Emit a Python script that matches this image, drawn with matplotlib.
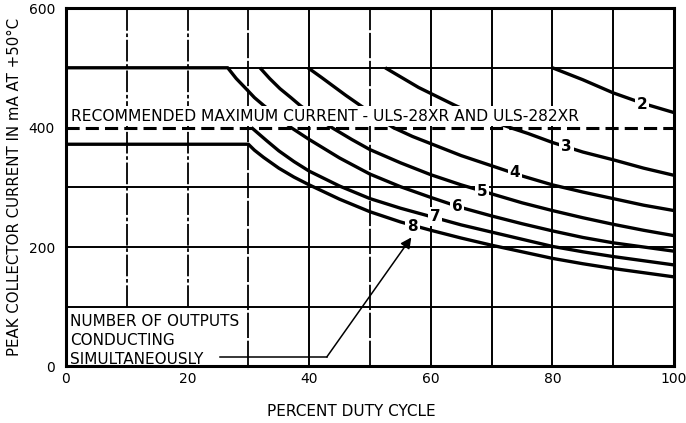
import matplotlib
matplotlib.use("Agg")
import matplotlib.pyplot as plt

# ---------------- data ----------------
x_ticks = [0, 20, 40, 60, 80, 100]
y_ticks = [0, 200, 400, 600]
x_grid = [10, 20, 30, 40, 50, 60, 70, 80, 90]
y_grid = [100, 200, 300, 500]

duty_2 = [80, 85, 90, 95, 100]
cur_2 = [500, 480, 458, 440, 425]

duty_3 = [52.5, 55, 58, 61, 64, 67, 70, 73, 76, 80, 85, 90, 95, 100]
cur_3 = [500, 485, 467, 452, 437, 423, 411, 400, 390, 375, 359, 346, 332, 320]

duty_4 = [39.8, 42, 44, 46, 48.4, 51, 53.8, 57, 60, 65, 70, 75, 80, 85, 90, 95, 100]
cur_4 = [500, 484, 469, 454, 437, 419, 400, 385, 373, 353, 336, 319, 304, 292, 281, 270, 261]

duty_5 = [31.9, 33.5, 35.2, 37, 38.5, 41, 43.7, 47, 50, 55, 60, 65, 70, 75, 80, 85, 90, 95, 100]
cur_5 = [500, 482, 465, 450, 437, 418, 400, 380, 363, 341, 321, 304, 289, 274, 261, 249, 238, 228, 219]

duty_6 = [0, 26.6, 28, 29.7, 31, 32.5, 35, 37, 40, 45, 50, 55, 60, 65, 70, 75, 80, 85, 90, 95, 100]
cur_6 = [500, 500, 482, 464, 450, 437, 417, 400, 380, 349, 322, 301, 283, 266, 252, 239, 227, 216, 207, 200, 193]

duty_7 = [30.5, 33, 35, 37.5, 40, 45, 50, 55, 60, 65, 70, 75, 80, 85, 90, 95, 100]
cur_7 = [400, 378, 361, 343, 327, 302, 281, 265, 251, 237, 225, 213, 201, 192, 184, 177, 170]

duty_8 = [0, 30, 31, 32.5, 35, 37.5, 40, 45, 50, 55, 60, 65, 70, 75, 80, 85, 90, 95, 100]
cur_8 = [372, 372, 362, 350, 332, 317, 304, 280, 259, 242, 228, 215, 203, 192, 181, 172, 164, 157, 150]

curve_names = ["2", "3", "4", "5", "6", "7", "8"]
label_x = [94.7, 82.3, 73.8, 68.4, 64.3, 60.7, 57.0]
label_y = [439, 369, 324, 293, 268, 251, 235]

recommended_max = 400
recommended_text = "RECOMMENDED MAXIMUM CURRENT - ULS-28XR AND ULS-282XR"
note_lines = ["NUMBER OF OUTPUTS", "CONDUCTING", "SIMULTANEOUSLY"]

# ---------------- figure ----------------
fig = plt.figure(figsize=(6.86, 4.23), dpi=100)
ax = fig.add_axes([0.0962, 0.1336, 0.8863, 0.8474])
ax.set_xlim(0, 100)
ax.set_ylim(0, 600)

# grid
for gx in x_grid:
    if gx in (10, 20):
        ax.axvline(gx, ymin=1/6, ymax=1, color="black", lw=1.3,
                   ls=(0, (12, 1.5, 2, 1.5)), zorder=1)
    elif gx in (30, 50):
        ax.axvline(gx, color="black", lw=1.3, ls=(0, (14, 1.5)), zorder=1)
    else:
        ax.axvline(gx, color="black", lw=1.4, zorder=1)
for gy in y_grid:
    ax.axhline(gy, color="black", lw=1.4, zorder=1)

# curves
curves = [(duty_2, cur_2), (duty_3, cur_3), (duty_4, cur_4), (duty_5, cur_5),
          (duty_6, cur_6), (duty_7, cur_7), (duty_8, cur_8)]
for dx, dy in curves:
    ax.plot(dx, dy, color="black", lw=2.4, solid_capstyle="butt",
            solid_joinstyle="round", zorder=3)

# curve labels
for name, lx, ly in zip(curve_names, label_x, label_y):
    ax.text(lx, ly, name, fontsize=11, fontweight="bold", ha="center",
            va="center", zorder=4,
            bbox=dict(boxstyle="square,pad=0.12", fc="white", ec="none"))

# recommended maximum current
ax.axhline(recommended_max, color="black", lw=2.2, ls=(0, (4.3, 2)), zorder=5)
ax.text(0.9, 419, recommended_text, fontsize=11.2, ha="left", va="center",
        zorder=4, bbox=dict(boxstyle="square,pad=0.15", fc="white", ec="none"))

# note with arrow
note_y = [75, 43, 12]
for txt, ny in zip(note_lines, note_y):
    ax.text(0.7, ny, txt, fontsize=11, ha="left", va="center", zorder=4)
ax.plot([25.3, 42.9], [16, 16], color="black", lw=1.1, zorder=4)
ax.annotate("", xy=(56.8, 216), xytext=(42.9, 16),
            arrowprops=dict(arrowstyle="-|>", color="black", lw=1.1,
                            mutation_scale=16, shrinkA=0, shrinkB=0),
            zorder=4)

# axes styling
ax.set_xticks(x_ticks)
ax.set_yticks(y_ticks)
ax.set_xticklabels([str(v) for v in x_ticks], fontsize=10)
ax.set_yticklabels([str(v) for v in y_ticks], fontsize=10)
ax.tick_params(axis="both", length=0)
ax.tick_params(axis="x", pad=4)
ax.tick_params(axis="y", pad=8)
for sp in ax.spines.values():
    sp.set_linewidth(2.2)
    sp.set_zorder(6)

ax.set_xlabel("PERCENT DUTY CYCLE", fontsize=11)
ax.xaxis.set_label_coords(0.47, -0.105)
ax.set_ylabel("PEAK COLLECTOR CURRENT IN mA AT +50\u00b0C", fontsize=10.8)
ax.yaxis.set_label_coords(-0.073, 0.5)

fig.savefig("out.png", dpi=100)
